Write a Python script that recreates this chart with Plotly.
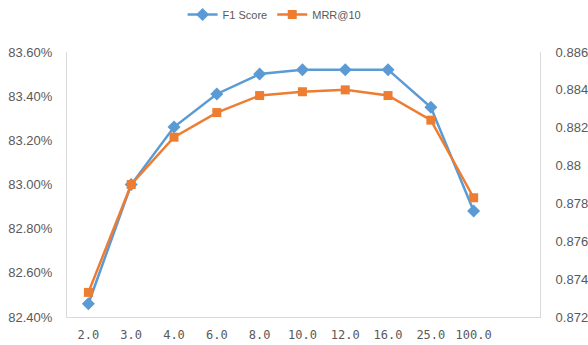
import plotly.graph_objects as go

# Categories and series values
categories = ["2.0", "3.0", "4.0", "6.0", "8.0", "10.0", "12.0", "16.0", "25.0", "100.0"]
f1_score = [82.46, 83.00, 83.26, 83.41, 83.50, 83.52, 83.52, 83.52, 83.35, 82.88]  # percent
mrr_at_10 = [0.8733, 0.8790, 0.8815, 0.8828, 0.8837, 0.8839, 0.8840, 0.8837, 0.8824, 0.8783]

# Axis tick labels
left_ticks = [82.4, 82.6, 82.8, 83.0, 83.2, 83.4, 83.6]
left_labels = ["82.40%", "82.60%", "82.80%", "83.00%", "83.20%", "83.40%", "83.60%"]
right_ticks = [0.872, 0.874, 0.876, 0.878, 0.880, 0.882, 0.884, 0.886]
right_labels = ["0.872", "0.874", "0.876", "0.878", "0.88", "0.882", "0.884", "0.886"]

BLUE = "#5B9BD5"
ORANGE = "#ED7D31"
AXIS = "#D9D9D9"
TEXT = "#595959"
FONT = "Liberation Sans, Arial, sans-serif"

fig = go.Figure()
fig.add_trace(go.Scatter(
    x=categories, y=f1_score, name="F1 Score", mode="lines+markers",
    line=dict(color=BLUE, width=2.5),
    marker=dict(symbol="diamond", size=10, color=BLUE),
    yaxis="y",
))
fig.add_trace(go.Scatter(
    x=categories, y=mrr_at_10, name="MRR@10", mode="lines+markers",
    line=dict(color=ORANGE, width=2.5),
    marker=dict(symbol="square", size=9, color=ORANGE),
    yaxis="y2",
))

fig.update_layout(
    width=588, height=345,
    margin=dict(l=67, r=48, t=52, b=28),
    paper_bgcolor="white", plot_bgcolor="white",
    font=dict(family=FONT, size=13, color=TEXT),
    showlegend=True,
    legend=dict(
        orientation="h", xref="container", yref="container",
        x=0.467, y=1.0, xanchor="center", yanchor="top",
        font=dict(size=11, color=TEXT), itemwidth=30,
        bgcolor="rgba(0,0,0,0)",
    ),
    xaxis=dict(
        type="category", range=[-0.5, 10.55],
        showline=True, linecolor=AXIS, linewidth=1,
        showgrid=False, ticks="", zeroline=False, automargin=False,
        tickfont=dict(family="DejaVu Sans Mono, monospace", size=12, color=TEXT),
        ticklabelstandoff=7,
    ),
    yaxis=dict(
        range=[82.4, 83.6], tickvals=left_ticks, ticktext=left_labels,
        showline=True, linecolor=AXIS, linewidth=1, automargin=False,
        showgrid=False, zeroline=False, ticks="", ticklabelstandoff=11,
    ),
    yaxis2=dict(
        range=[0.872, 0.886], tickvals=right_ticks, ticktext=right_labels,
        overlaying="y", side="right", automargin=False,
        showline=True, linecolor=AXIS, linewidth=1,
        showgrid=False, zeroline=False, ticks="", ticklabelstandoff=12,
    ),
)

fig.write_html("out.html")
